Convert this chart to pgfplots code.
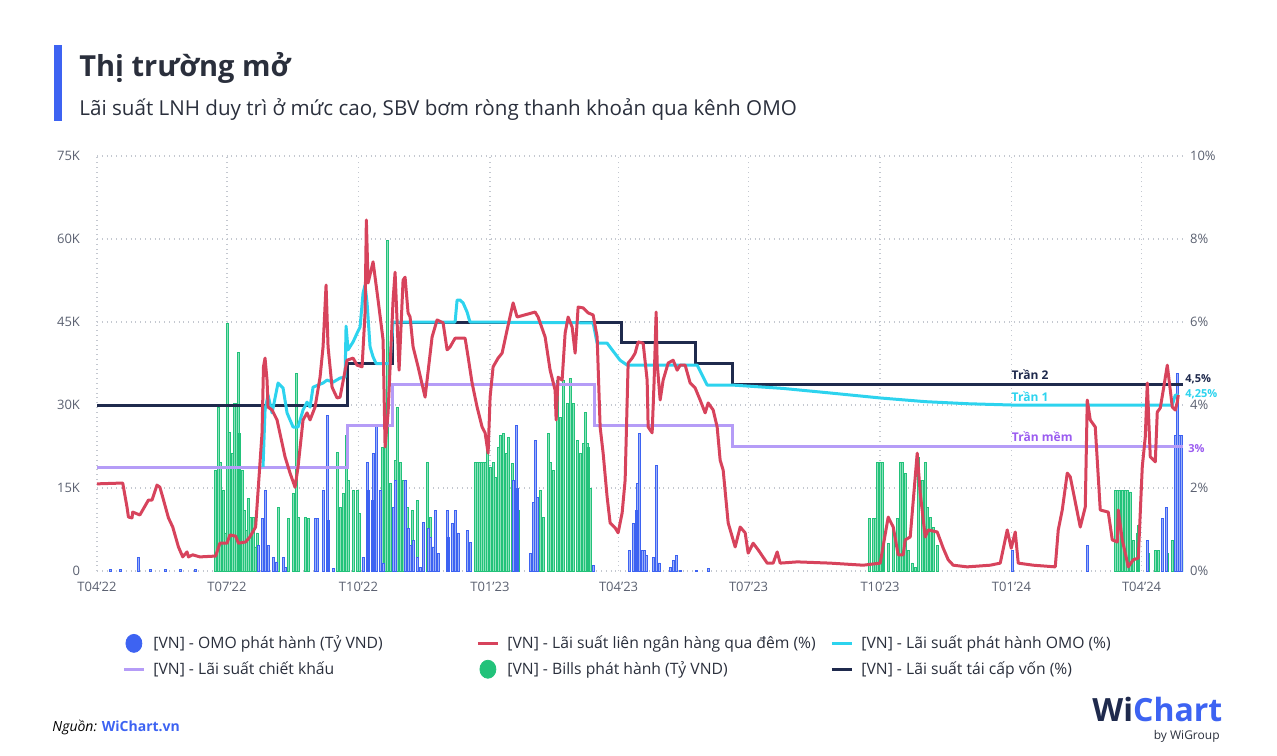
\documentclass[border=0pt]{standalone}
\usepackage{pgfplots}
\usepackage{pgfplotstable}
\pgfplotsset{compat=1.18}
\usepackage{fontspec}
\setmainfont{Open Sans}
\definecolor{cnavy}{HTML}{1F2A4D}
\definecolor{cred}{HTML}{D7435C}
\definecolor{ccyan}{HTML}{2DD3EE}
\definecolor{cpurple}{HTML}{B59CF7}
\definecolor{cpurpletxt}{HTML}{9B5CF0}
\definecolor{cgreen}{HTML}{22C27A}
\definecolor{cgreenl}{HTML}{8CE2BB}
\definecolor{cblue}{HTML}{3D63F2}
\definecolor{cbluel}{HTML}{9CB0F8}
\definecolor{ctitle}{HTML}{2A2F3C}
\definecolor{ctick}{HTML}{5A6070}
\definecolor{cgrid}{HTML}{C4C8D0}

% Bills (green), day since 1 Apr 2022, value (ty VND)
\pgfplotstableread{
d v
82.6 18250
84.7 29640
86.1 19700
88.2 14640
89.6 6870
91 44810
92.4 25120
94.5 21320
95.9 30360
97.3 30360
98.7 39570
99.4 24940
101.5 18250
102.9 11020
104.3 7410
105.7 13190
107.1 9760
109.2 9760
110.6 4340
112 6870
126.7 11560
133.7 9580
137.2 14090
139.3 35780
140.7 9760
145.6 9760
147.7 9580
152.6 720
168 21500
170.1 11560
172.2 14090
174.3 24580
175.7 16440
179.2 14640
182 14640
183.4 10480
199.5 22410
201.6 22410
203 59810
205.1 15900
208.6 20060
210 29640
212.1 19700
214.2 16440
217 11560
220.5 11020
224 12830
231 19700
233.1 9760
235.2 4340
264.6 19700
266 19700
267.4 19700
268.8 19700
270.2 19700
271.6 19700
273 24210
275.1 18790
277.2 19700
278.6 16990
280.7 22410
282.1 24580
284.2 24940
286.3 21320
287.7 24210
290.5 19520
292.6 16440
294.7 11020
305.2 720
310.1 14640
312.2 9760
315.7 24940
317.1 19700
319.2 18250
322 34510
324.1 27830
326.2 34510
329 30360
331.1 34870
333.2 30360
336 23670
338.1 21320
340.2 23130
341.6 28730
343 23130
343.7 22410
345.1 15000
540.4 9580
543.2 9580
544.6 9580
546 19700
548.1 19700
549.5 19700
550.2 5060
553.7 5060
557.2 7410
560 9580
562.1 19700
563.5 19700
565.6 17710
567.7 3790
570.5 1450
572.6 720
574.7 20600
577.5 16440
579.6 19700
581 11560
583.1 9760
585.2 7950
588 4700
712.6 14640
714 14640
715.4 14640
717.5 14640
719.6 14640
721 14640
723.1 14280
725.2 5600
728 6870
728.7 8310
735.7 3250
740.6 3790
742.7 3790
745.5 8310
749 3250
752.5 5600
759.5 3790
}\greentab

% OMO issued (blue)
\pgfplotstableread{
d v
9.1 300
16.1 300
28.7 2530
37.1 300
47.6 300
58.1 300
68.6 300
112.7 4700
115.5 9580
117.6 14640
119.7 4700
123.2 2530
125.3 1630
130.2 2530
131.6 720
152.6 9580
154 9580
158.2 14640
161 28190
161.7 9220
165.2 540
186.2 2530
189 19700
189.7 14640
192.5 12830
193.2 21320
195.3 26380
198.1 14640
200.2 1450
207.2 11560
208.6 16440
215.6 16440
217.7 7770
219.1 4700
221.2 5600
224 2530
226.1 720
228.2 8850
231.7 7770
233.1 6140
235.2 4340
236.6 11020
238.7 3250
245 11020
245.7 6140
248.5 8670
250.6 11020
252.7 6870
259 7410
261.1 5240
291.2 16440
293.3 26380
294 15000
303.1 3250
305.2 12470
306.6 23670
308 13370
347.2 1080
372.4 3790
375.2 8670
377.3 11020
378 15900
379.4 24940
381.5 3790
382.9 3790
384.3 2890
389.2 2530
391.3 19150
393.4 1450
401.1 720
403.2 1990
405.3 2890
408.1 180
419.3 180
427.7 540
640.5 3790
693 4700
735 5600
745.5 9580
748.3 11560
754.6 24580
756 35780
757.4 24580
758.8 24580
}\bluetab

% Interbank overnight rate (%)
\pgfplotstableread{
d r
0 2.10
18 2.12
21 1.54
22 1.30
24.5 1.28
25 1.42
30 1.35
36 1.71
38.5 1.71
42 2.07
44 2.02
46 1.78
50 1.28
53 1.06
57 0.58
60 0.34
63 0.46
64 0.34
67 0.39
72 0.34
83 0.36
86 0.67
91 0.67
93 0.87
97 0.84
99 0.67
104 0.70
107 0.82
111 1.06
113 2.07
115.5 3.33
116.5 4.92
117.6 5.13
119 4.60
119.7 3.95
122.5 3.88
126 3.64
131.6 2.75
135.1 2.36
138.6 2.02
140.7 2.51
144.2 3.64
147 3.81
149.1 3.64
152.6 3.95
156.1 4.67
158.2 5.40
160.3 6.89
161.7 5.40
164.5 4.43
168 4.17
170.1 4.19
175 5.08
179.2 5.13
182 4.96
185.5 4.92
187.6 6.22
188.5 8.46
189.7 6.94
193.2 7.45
196.7 6.53
200.2 5.57
201.6 2.99
203.7 3.81
207.2 6.53
208.6 7.20
211.4 4.84
214.2 7.01
215.6 7.08
217.7 6.22
219.1 6.12
221.2 5.40
224.7 4.92
229.6 4.19
231 4.60
234.5 5.64
238 6.05
242.2 5.98
245 5.33
247.1 5.40
250.6 5.61
257.6 5.61
259.7 5.16
262.5 4.53
266 3.95
269.5 3.47
271.6 3.33
273.7 2.84
275.1 4.19
277.2 4.92
280.7 5.13
283.5 5.25
287 5.81
291.2 6.46
294 6.12
306.6 6.24
308.7 6.12
313.6 5.64
317.1 4.84
320.6 4.36
321.3 3.64
322.7 4.67
325.5 4.60
327.6 5.73
329.7 6.12
332.5 5.88
334.6 5.25
336.7 6.36
340.2 6.34
343.7 6.22
347.2 6.17
350 5.64
352.1 3.47
354.2 2.84
357 1.78
359.1 1.16
362.6 1.04
364.7 0.92
367.5 1.40
369.6 2.19
371.7 5.01
374.5 5.13
376.6 5.25
378.7 5.52
382.2 5.49
385 4.60
385.7 3.47
388.5 3.33
389.9 4.60
391.3 6.24
392 5.01
394.1 4.12
396.2 4.60
399.7 5.01
403.2 5.08
406 4.84
408.1 4.96
411.6 4.96
415.1 4.53
418.6 4.41
422.1 4.12
425.6 3.81
427.7 4.05
431.2 3.88
434 3.47
436.1 2.67
438.2 2.43
441.7 1.16
446.6 0.58
450.1 1.06
453.6 0.92
455.7 0.43
459.2 0.67
462.7 0.51
469 0.19
473.2 0.19
476 0.46
478.1 0.19
490 0.22
513.1 0.19
536.2 0.14
548.1 0.19
553.7 1.30
557.2 1.06
560.7 0.39
564.2 0.39
565.6 0.75
569.1 0.82
574 2.84
576.1 1.88
579.6 0.82
581.7 0.99
588 0.94
592.2 0.55
595.7 0.27
599.2 0.14
609 0.10
625.1 0.14
632.1 0.19
637 0.99
639.8 0.55
642.6 0.94
644.7 0.19
655.2 0.14
670.6 0.10
672.7 0.99
675.5 1.47
679 2.36
681.1 2.27
688.1 1.06
691.6 1.54
693 4.12
695.1 3.64
698.6 3.47
702.1 1.47
707.7 1.42
710.5 0.75
714 0.70
714.7 1.47
717.5 0.75
719.6 0.43
721.7 0.10
725.2 0.27
728.7 0.31
731.5 2.51
733.6 3.23
735 4.53
737.1 2.75
740.6 2.63
742 3.83
744.1 3.93
746.2 4.36
749 4.96
751.1 4.36
752.5 3.95
754.6 3.88
756 4.07
756.7 4.24
}\redtab

% OMO rate (%)
\pgfplotstableread{
d r
116.2 2.51
117.6 3.88
119.7 4.24
122.5 3.81
126.7 4.53
130.2 4.41
133 3.81
137.2 3.47
140.7 3.47
144.2 3.88
147 4.07
149.1 3.95
151.2 4.43
158.2 4.53
161 4.60
165.2 4.55
170.1 4.65
173.6 4.67
174.3 5.90
175.7 5.33
179.2 5.52
182 5.73
184.1 5.88
186.2 6.70
187.6 6.89
189 6.46
191.1 5.40
193.2 5.16
195.3 5.00
205 5.00
207.2 6.00
250.6 6.00
252 6.53
254 6.53
256.2 6.46
259 6.24
261 6.00
347.2 5.98
350 5.49
357 5.49
366 5.08
371 4.96
420 4.96
427 4.48
445 4.48
480 4.40
513 4.29
548 4.17
580 4.08
610 4.03
640 4.00
752.5 4.00
754.6 4.24
757 4.24
}\cyantab

% Refinancing rate (%)
\pgfplotstableread{
d r
0 4
175 4
175 5
207 5
207 6
367 6
367 5.5
419 5.5
419 5
445 5
445 4.5
760 4.5
}\navytab

% Discount rate (%)
\pgfplotstableread{
d r
0 2.5
175 2.5
175 3.5
207 3.5
207 4.5
348 4.5
348 3.5
445 3.5
445 3.0
760 3.0
}\purpletab

\begin{document}
\begin{tikzpicture}
\path (0pt,0pt) rectangle (638.5pt,-377.5pt);
% title block
\fill[cblue] (27pt,-22.5pt) rectangle (31pt,-60.5pt);
\node[anchor=base west, inner sep=0pt, text=ctitle, font=\fontsize{14.5}{17}\selectfont\bfseries] at (39.5pt,-38pt) {Thị trường mở};
\node[anchor=base west, inner sep=0pt, text=ctitle, font=\fontsize{10.3}{12}\selectfont] at (39.5pt,-57.5pt) {Lãi suất LNH duy trì ở mức cao, SBV bơm ròng thanh khoản qua kênh OMO};

\begin{axis}[
  name=ax1,
  at={(48.5pt,-285.5pt)}, anchor=south west,
  scale only axis, width=543pt, height=207.5pt,
  xmin=0, xmax=760, ymin=0, ymax=75000,
  axis line style={draw=none}, major tick length=0pt,
  xtick={0,91,183,275,365,456,548,640,731},
  xticklabels={T04'22,T07'22,T10'22,T01'23,T04'23,T07'23,T10'23,T01'24,T04'24},
  ytick={0,15000,30000,45000,60000,75000},
  yticklabels={0,15K,30K,45K,60K,75K},
  scaled y ticks=false,
  xmajorgrids, ymajorgrids,
  grid style={cgrid, dotted, line width=0.6pt},
  ticklabel style={font=\fontsize{6.5}{8}\selectfont, text=ctick},
  yticklabel style={xshift=-5pt},
  xticklabel style={yshift=-2pt},
]
\addplot[ybar, bar width=1.3, bar shift=0pt, fill=cgreenl, draw=cgreen, line width=0.35pt] table[x=d,y=v] {\greentab};
\addplot[ybar, bar width=1.3, bar shift=0pt, fill=cbluel, draw=cblue, line width=0.35pt] table[x=d,y=v] {\bluetab};
\end{axis}

\begin{axis}[
  at={(48.5pt,-285.5pt)}, anchor=south west,
  scale only axis, width=543pt, height=207.5pt,
  xmin=0, xmax=760, ymin=0, ymax=10,
  axis line style={draw=none}, major tick length=0pt,
  xtick=\empty,
  ytick={0,2,4,6,8,10},
  yticklabels={0\%,2\%,4\%,6\%,8\%,10\%},
  yticklabel pos=right,
  ticklabel style={font=\fontsize{6.5}{8}\selectfont, text=ctick},
  yticklabel style={xshift=0pt},
  clip=false,
  legend columns=3,
  legend cell align=left,
  legend style={at={(0.0175,-0.135)}, anchor=north west, draw=none, fill=none,
     font=\fontsize{7.85}{9.5}\selectfont, text=ctitle, row sep=1pt},
]
\addplot[cpurple, line width=1.5pt, forget plot] table[x=d,y=r] {\purpletab};
\addplot[cnavy, line width=1.5pt, forget plot] table[x=d,y=r] {\navytab};
\addplot[ccyan, line width=1.5pt, line join=round, forget plot] table[x=d,y=r] {\cyantab};
\addplot[cred, line width=1.5pt, line join=round, forget plot] table[x=d,y=r] {\redtab};

\node[anchor=center, text=cnavy, font=\fontsize{6}{7}\selectfont\bfseries] at (axis cs:653,4.72) {Trần 2};
\node[anchor=center, text=ccyan, font=\fontsize{6}{7}\selectfont\bfseries] at (axis cs:653,4.19) {Trần 1};
\node[anchor=center, text=cpurpletxt, font=\fontsize{6}{7}\selectfont\bfseries] at (axis cs:661.5,3.23) {Trần mềm};
\node[anchor=west, inner sep=1pt, text=cnavy, font=\fontsize{5.5}{7}\selectfont\bfseries] at (axis cs:760,4.62) {4,5\%};
\node[anchor=west, inner sep=1pt, text=ccyan, font=\fontsize{5.5}{7}\selectfont\bfseries] at (axis cs:760,4.26) {4,25\%};
\node[anchor=west, inner sep=1pt, text=cpurpletxt, font=\fontsize{5.5}{7}\selectfont\bfseries] at (axis cs:762,2.94) {3\%};

\addlegendimage{legend image code/.code={\fill[cblue] (5pt,0pt) ellipse (4pt and 4.5pt);}}
\addlegendentry{\makebox[161.5pt][l]{\hspace{2pt}[VN] - OMO phát hành (Tỷ VND)}}
\addlegendimage{legend image code/.code={\draw[cred, line width=1.5pt] (0pt,0pt) -- (10pt,0pt);}}
\addlegendentry{\makebox[161.5pt][l]{\hspace{2pt}[VN] - Lãi suất liên ngân hàng qua đêm (\%)}}
\addlegendimage{legend image code/.code={\draw[ccyan, line width=1.5pt] (0pt,0pt) -- (10pt,0pt);}}
\addlegendentry{\hspace{2pt}[VN] - Lãi suất phát hành OMO (\%)}
\addlegendimage{legend image code/.code={\draw[cpurple, line width=1.5pt] (0pt,0pt) -- (10pt,0pt);}}
\addlegendentry{\makebox[161.5pt][l]{\hspace{2pt}[VN] - Lãi suất chiết khấu}}
\addlegendimage{legend image code/.code={\fill[cgreen] (5pt,0pt) ellipse (4pt and 4.5pt);}}
\addlegendentry{\makebox[161.5pt][l]{\hspace{2pt}[VN] - Bills phát hành (Tỷ VND)}}
\addlegendimage{legend image code/.code={\draw[cnavy, line width=1.5pt] (0pt,0pt) -- (10pt,0pt);}}
\addlegendentry{\hspace{2pt}[VN] - Lãi suất tái cấp vốn (\%)}
\end{axis}

% footer
\node[anchor=base west, inner sep=0pt, font=\fontsize{7}{8}\selectfont] at (26pt,-365.5pt) {\textit{Nguồn:} \textcolor{cblue}{\bfseries WiChart.vn}};
\node[anchor=base west, inner sep=0pt, font=\fontsize{16}{18}\selectfont\bfseries] at (546pt,-360.5pt) {\textcolor{cnavy}{Wi}\textcolor{cblue}{Chart}};
\node[anchor=base east, inner sep=0pt, text=ctitle, font=\fontsize{6}{7}\selectfont] at (610pt,-369.5pt) {by WiGroup};
\end{tikzpicture}
\end{document}
